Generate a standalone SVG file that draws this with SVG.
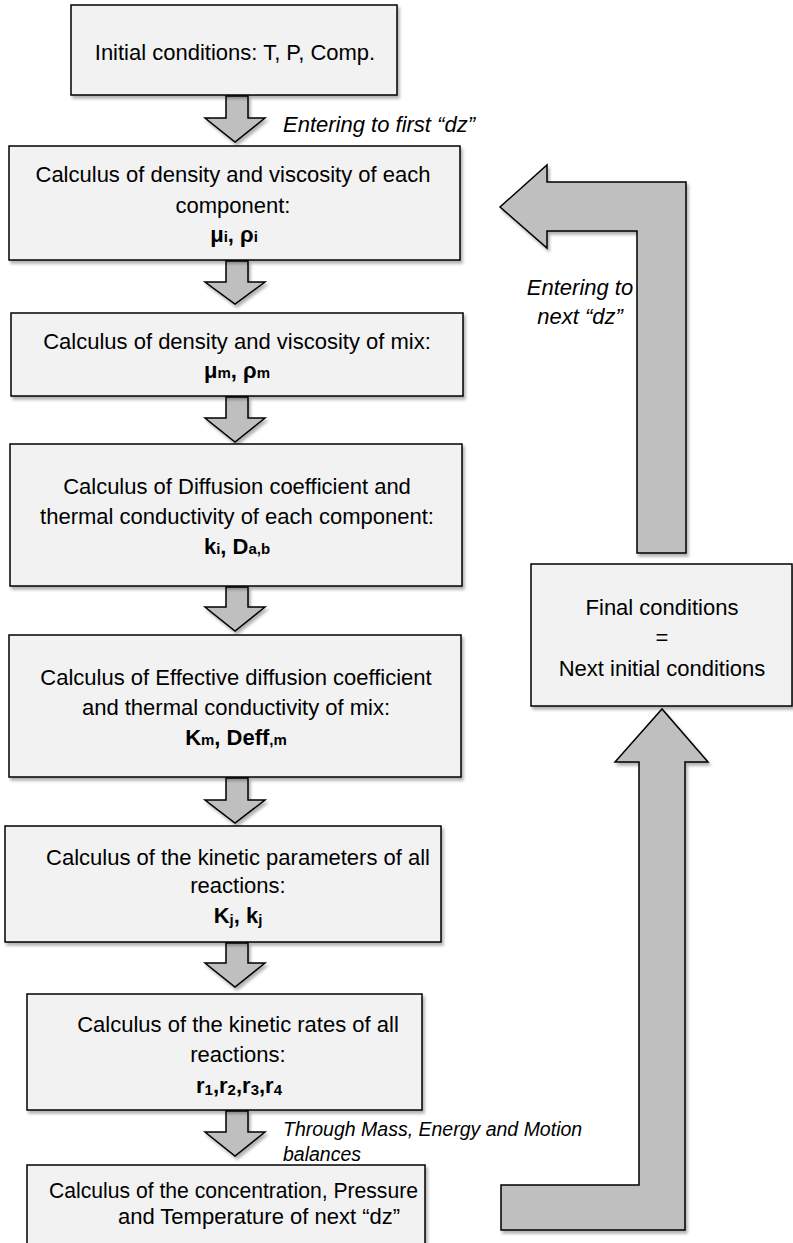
<svg xmlns="http://www.w3.org/2000/svg" width="793" height="1243" viewBox="0 0 793 1243">
<defs>
<filter id="sh" x="-10%" y="-10%" width="130%" height="130%">
<feDropShadow dx="2" dy="3" stdDeviation="1.8" flood-color="#000" flood-opacity="0.3"/>
</filter>
<style>
.box{fill:#f2f2f2;stroke:#000;stroke-width:1.5;filter:url(#sh)}
.arr{fill:#bfbfbf;stroke:#000;stroke-width:1.5;stroke-linejoin:miter;filter:url(#sh)}
text{font-family:"Liberation Sans",Arial,sans-serif;font-size:22px;fill:#000}
.c{text-anchor:middle}
.b{font-weight:bold}
.s{font-size:15px}
.it{font-style:italic}
.sm{font-size:19.5px}
</style>
</defs>
<rect width="793" height="1243" fill="#fff"/>

<g id="connectors">
<path class="arr" d="M226,96 H248 V118 H265 L235,142 L205,118 H226 Z"/>
<path class="arr" d="M226,261 H248 V282 H265 L235,304 L205,282 H226 Z"/>
<path class="arr" d="M226,397 H248 V418 H265 L235,442 L205,418 H226 Z"/>
<path class="arr" d="M226,587 H248 V607 H265 L235,631 L205,607 H226 Z"/>
<path class="arr" d="M226,778 H248 V800 H265 L235,823 L205,800 H226 Z"/>
<path class="arr" d="M226,943 H248 V963 H265 L235,987 L205,963 H226 Z"/>
<path class="arr" d="M226,1111 H248 V1132 H265 L235,1156 L205,1132 H226 Z"/>
<path class="arr" d="M501,1185 H639 V762 H615 L662,709 L708,762 H685 V1230 H501 Z"/>
<path class="arr" d="M686,553 V182 H547 V165 L500,207 L547,248 V231 H637 V553 Z"/>
<text class="it" x="283" y="132">Entering to first “dz”</text>
<text class="it c" x="580" y="295">Entering to</text>
<text class="it c" x="580" y="324">next “dz”</text>
<text class="it sm" x="283" y="1136">Through Mass, Energy and Motion</text>
<text class="it sm" x="283" y="1161">balances</text>
</g>

<g id="n1">
<rect class="box" x="71" y="5" width="326" height="90"/>
<text class="c" x="235" y="60">Initial conditions: T, P, Comp.</text>
</g>
<g id="n2">
<rect class="box" x="9" y="146" width="451" height="114"/>
<text class="c" x="233" y="182">Calculus of density and viscosity of each</text>
<text class="c" x="233" y="213">component:</text>
<text class="c b" x="234" y="242">μ<tspan class="s">i</tspan>, ρ<tspan class="s">i</tspan></text>
</g>
<g id="n3">
<rect class="box" x="11" y="313" width="452" height="83"/>
<text class="c" x="237" y="349">Calculus of density and viscosity of mix:</text>
<text class="c b" x="237" y="378">μ<tspan class="s">m</tspan>, ρ<tspan class="s">m</tspan></text>
</g>
<g id="n4">
<rect class="box" x="10" y="444" width="452" height="142"/>
<text class="c" x="237" y="494">Calculus of Diffusion coefficient and</text>
<text class="c" x="237" y="524">thermal conductivity of each component:</text>
<text class="c b" x="237" y="554">k<tspan class="s">i</tspan>, D<tspan class="s">a,b</tspan></text>
</g>
<g id="n5">
<rect class="box" x="9" y="635" width="452" height="142"/>
<text class="c" x="236" y="685">Calculus of Effective diffusion coefficient</text>
<text class="c" x="236" y="715">and thermal conductivity of mix:</text>
<text class="c b" x="236" y="745">K<tspan class="s">m</tspan>, Deff<tspan class="s">,m</tspan></text>
</g>
<g id="n6">
<rect class="box" x="5" y="826" width="436" height="116"/>
<text class="c" x="238" y="865">Calculus of the kinetic parameters of all</text>
<text class="c" x="238" y="893">reactions:</text>
<text class="c b" x="238" y="923">K<tspan class="s" dy="2">j</tspan><tspan dy="-2">, k</tspan><tspan class="s" dy="2">j</tspan></text>
</g>
<g id="n7">
<rect class="box" x="27" y="994" width="395" height="116"/>
<text class="c" x="238" y="1032">Calculus of the kinetic rates of all</text>
<text class="c" x="238" y="1062">reactions:</text>
<text class="c b" x="239" y="1093">r<tspan class="s" dy="2">1</tspan><tspan dy="-2">,r</tspan><tspan class="s" dy="2">2</tspan><tspan dy="-2">,r</tspan><tspan class="s" dy="2">3</tspan><tspan dy="-2">,r</tspan><tspan class="s" dy="2">4</tspan></text>
</g>
<g id="n8">
<rect class="box" x="27" y="1165" width="398" height="90"/>
<text class="c" x="233.5" y="1198" textLength="369" lengthAdjust="spacingAndGlyphs">Calculus of the concentration, Pressure</text>
<text class="c" x="259" y="1224">and Temperature of next “dz”</text>
</g>
<g id="n9">
<rect class="box" x="531" y="564" width="261" height="142"/>
<text class="c" x="662" y="615">Final conditions</text>
<text class="c" x="662" y="645">=</text>
<text class="c" x="662" y="676">Next initial conditions</text>
</g>
</svg>
